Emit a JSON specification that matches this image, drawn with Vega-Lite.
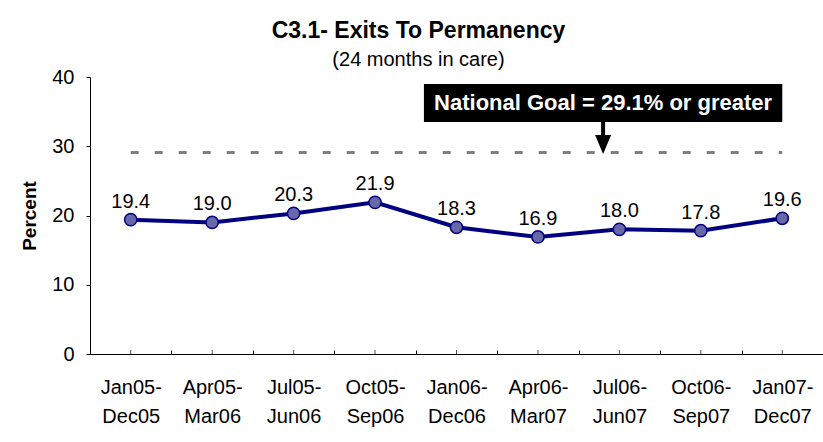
{
  "$schema": "https://vega.github.io/schema/vega-lite/v6.json",
  "width": 733,
  "height": 277,
  "autosize": {"type": "none"},
  "padding": {"left": 90, "top": 77, "right": 0, "bottom": 88},
  "background": "white",
  "config": {
    "view": {"stroke": null},
    "font": "Liberation Sans",
    "axis": {"labelFont": "Liberation Sans", "titleFont": "Liberation Sans", "labelColor": "black", "titleColor": "black"}
  },
  "title": {
    "text": "C3.1- Exits To Permanency",
    "subtitle": "(24 months in care)",
    "anchor": "middle",
    "dx": -38,
    "offset": -3,
    "fontSize": 23,
    "fontWeight": "bold",
    "font": "Liberation Sans",
    "color": "black",
    "subtitleFont": "Liberation Sans",
    "subtitleFontSize": 20,
    "subtitleColor": "black",
    "subtitlePadding": 7
  },
  "resolve": {"scale": {"x": "independent"}, "axis": {"x": "independent"}},
  "layer": [
    {
      "data": {
        "values": [
          {"period": "Jan05-Dec05", "percent": 19.4},
          {"period": "Apr05-Mar06", "percent": 19.0},
          {"period": "Jul05-Jun06", "percent": 20.3},
          {"period": "Oct05-Sep06", "percent": 21.9},
          {"period": "Jan06-Dec06", "percent": 18.3},
          {"period": "Apr06-Mar07", "percent": 16.9},
          {"period": "Jul06-Jun07", "percent": 18.0},
          {"period": "Oct06-Sep07", "percent": 17.8},
          {"period": "Jan07-Dec07", "percent": 19.6}
        ]
      },
      "encoding": {
        "x": {
          "field": "period",
          "type": "nominal",
          "sort": null,
          "scale": {"type": "band", "paddingInner": 0, "paddingOuter": 0},
          "axis": {
            "title": null,
            "labelAngle": 0,
            "labelFontSize": 20,
            "labelLineHeight": 29,
            "labelPadding": 27,
            "labelBaseline": "top",
            "tickBand": "extent",
            "tickSize": -4,
            "tickColor": "#000000",
            "domainColor": "#000000",
            "labelExpr": "[slice(datum.label, 0, indexof(datum.label, '-') + 1), slice(datum.label, indexof(datum.label, '-') + 1)]"
          }
        },
        "y": {
          "field": "percent",
          "type": "quantitative",
          "scale": {"domain": [0, 40], "nice": false, "zero": true},
          "axis": {
            "title": "Percent",
            "titleFontSize": 19,
            "titleFontWeight": "bold",
            "titlePadding": 12,
            "values": [0, 10, 20, 30, 40],
            "grid": false,
            "labelFontSize": 20,
            "labelPadding": 12,
            "tickSize": 4,
            "tickColor": "#000000",
            "domainColor": "#000000"
          }
        }
      },
      "layer": [
        {
          "mark": {"type": "tick", "orient": "vertical", "size": 4, "thickness": 1, "color": "#000000", "yOffset": -2},
          "encoding": {"y": {"datum": 0}}
        },
        {
          "mark": {"type": "line", "color": "#000080", "strokeWidth": 4}
        },
        {
          "mark": {"type": "point", "filled": true, "fill": "#6868A8", "stroke": "#000080", "strokeWidth": 1.5, "size": 150, "opacity": 1}
        },
        {
          "mark": {"type": "text", "fontSize": 20, "baseline": "alphabetic", "dy": -12, "color": "black"},
          "encoding": {"text": {"field": "percent", "type": "quantitative", "format": ".1f"}}
        }
      ]
    },
    {
      "data": {"values": [{}]},
      "layer": [
        {
          "mark": {"type": "rule", "color": "#808080", "strokeWidth": 3, "strokeDash": [8, 16]},
          "encoding": {
            "x": {"datum": 0.5, "type": "quantitative", "scale": {"domain": [0, 9], "nice": false, "zero": false}, "axis": null},
            "x2": {"datum": 8.5},
            "y": {"datum": 29.1, "type": "quantitative"}
          }
        },
        {
          "mark": {"type": "rect", "color": "#000000"},
          "encoding": {
            "x": {"datum": 4.1, "type": "quantitative", "scale": {"domain": [0, 9], "nice": false, "zero": false}, "axis": null},
            "x2": {"datum": 8.5},
            "y": {"datum": 39.0, "type": "quantitative"},
            "y2": {"datum": 33.5}
          }
        },
        {
          "mark": {"type": "text", "text": "National Goal = 29.1% or greater", "color": "white", "fontSize": 22, "fontWeight": "bold", "baseline": "middle", "align": "center"},
          "encoding": {
            "x": {"datum": 6.3, "type": "quantitative", "scale": {"domain": [0, 9], "nice": false, "zero": false}, "axis": null},
            "y": {"datum": 36.25, "type": "quantitative"}
          }
        },
        {
          "mark": {"type": "rule", "color": "#000000", "strokeWidth": 4},
          "encoding": {
            "x": {"datum": 6.3, "type": "quantitative", "scale": {"domain": [0, 9], "nice": false, "zero": false}, "axis": null},
            "y": {"datum": 33.5, "type": "quantitative"},
            "y2": {"datum": 31.4}
          }
        },
        {
          "mark": {"type": "point", "shape": "M-1,-1.2L1,-1.2L0,1.2Z", "filled": true, "color": "#000000", "size": 256, "opacity": 1},
          "encoding": {
            "x": {"datum": 6.3, "type": "quantitative", "scale": {"domain": [0, 9], "nice": false, "zero": false}, "axis": null},
            "y": {"datum": 30.25, "type": "quantitative"}
          }
        }
      ]
    }
  ]
}
